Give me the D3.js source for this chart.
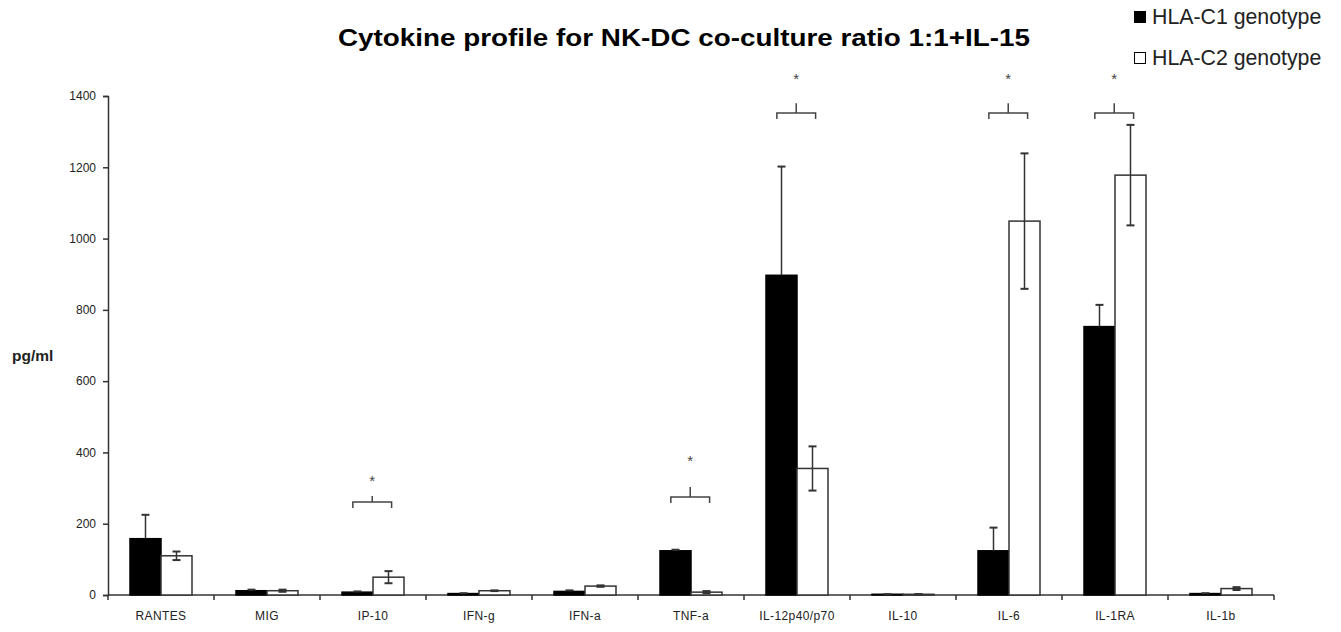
<!DOCTYPE html>
<html><head><meta charset="utf-8">
<script src="https://cdn.jsdelivr.net/npm/d3@7"></script>
<style>body{margin:0;background:#fff}svg{display:block}text{font-family:"Liberation Sans",Arial,sans-serif}</style>
</head><body>
<svg id="c" width="1341" height="632"></svg>
<script>
const categories = ["RANTES","MIG","IP-10","IFN-g","IFN-a","TNF-a","IL-12p40/p70","IL-10","IL-6","IL-1RA","IL-1b"];
const seriesNames = ["HLA-C1 genotype","HLA-C2 genotype"];
const c1Values = [158, 12, 8, 4, 10, 124, 897, 2, 124, 753, 4];
const c1Errors = [67, 3, 2, 1, 3, 3, 305, 0.5, 65, 61, 1];
const c2Values = [110, 12, 50, 12, 25, 8, 355, 2, 1049, 1178, 18];
const c2Errors = [12, 3, 17, 1, 2, 3, 62, 0.5, 190, 141, 4];
const yTicks = [0, 200, 400, 600, 800, 1000, 1200, 1400];
const sigCategories = ["IP-10","TNF-a","IL-12p40/p70","IL-6","IL-1RA"];
const sigLevels = [261, 275, 1352, 1352, 1352];
const sigStemTops = [278, 303, 1380, 1380, 1380];
const sigStars = [328, 384, 1456, 1456, 1456];
const title = "Cytokine profile for NK-DC co-culture ratio 1:1+IL-15";
const yLabel = "pg/ml";

const svg = d3.select("#c");
const L = 108, R = 1274, T = 96, B = 595;
const x0 = d3.scaleBand().domain(categories).range([L, R]).padding(0);
const groupW = 62;
const x1 = d3.scaleBand().domain(seriesNames).range([0, groupW]).padding(0);
const y = d3.scaleLinear().domain([0, 1400]).range([B, T]);
const off = (x0.bandwidth() - groupW) / 2;
const ink = "#222";

// title
svg.append("text").attr("x", 338).attr("y", 46).attr("font-size", 24).attr("font-weight", "bold")
  .attr("textLength", 692).attr("lengthAdjust", "spacingAndGlyphs").attr("fill", "#000").text(title);

// legend
const leg = svg.append("g");
seriesNames.forEach((s, i) => {
  const yy = 11 + i * 41;
  leg.append("rect").attr("x", 1134.5).attr("y", yy + 0.5).attr("width", 11).attr("height", 11)
    .attr("fill", i === 0 ? "#000" : "#fff").attr("stroke", "#000").attr("stroke-width", 1);
  leg.append("text").attr("x", 1152).attr("y", yy + 13).attr("font-size", 21.3).attr("fill", ink).text(s);
});

// y axis
const yAxis = svg.append("g").attr("transform", `translate(${L},0)`)
  .call(d3.axisLeft(y).tickValues(yTicks).tickSize(5).tickPadding(7).tickFormat(d3.format("d")));
yAxis.select(".domain").attr("stroke", "#333").attr("stroke-width", 1.5);
yAxis.selectAll(".tick line").attr("stroke", "#333").attr("stroke-width", 1.5);
yAxis.selectAll(".tick text").attr("font-size", 12).attr("fill", ink).attr("font-family", "Liberation Sans, Arial, sans-serif");

svg.append("text").attr("x", 12).attr("y", 361).attr("font-size", 15.5).attr("font-weight", "bold")
  .attr("fill", ink).text(yLabel);

// x axis: ticks at category boundaries
const xg = svg.append("g");
xg.append("line").attr("x1", L).attr("x2", R).attr("y1", B).attr("y2", B).attr("stroke", "#333").attr("stroke-width", 1.5);
const edges = categories.map(c => x0(c)).concat([R]);
xg.selectAll(".xt").data(edges).join("line").attr("x1", d => d).attr("x2", d => d)
  .attr("y1", B).attr("y2", B + 5).attr("stroke", "#333").attr("stroke-width", 1.5);
xg.selectAll(".xl").data(categories).join("text")
  .attr("x", d => x0(d) + x0.bandwidth() / 2).attr("y", 620).attr("text-anchor", "middle")
  .attr("font-size", 12).attr("letter-spacing", 0.4).attr("fill", ink).text(d => d);

// bars
const rows = categories.map((c, i) => ({c, vals: [
  {s: seriesNames[0], v: c1Values[i], e: c1Errors[i], k: 0},
  {s: seriesNames[1], v: c2Values[i], e: c2Errors[i], k: 1}]}));
const g = svg.append("g");
const grp = g.selectAll(".grp").data(rows).join("g").attr("transform", d => `translate(${x0(d.c) + off},0)`);
grp.selectAll("rect").data(d => d.vals).join("rect")
  .attr("x", d => x1(d.s)).attr("width", x1.bandwidth())
  .attr("y", d => y(d.v)).attr("height", d => B - y(d.v))
  .attr("fill", d => d.k === 0 ? "#000" : "#fff")
  .attr("stroke", d => d.k === 0 ? "#000" : "#333").attr("stroke-width", 1.5);

// error bars (lower half of the black series is hidden inside the bar)
const cx = d => x1(d.s) + x1.bandwidth() / 2;
const lo = d => d.k === 0 ? d.v : Math.max(0, d.v - d.e);
const eb = grp.selectAll(".eb").data(d => d.vals).join("g");
eb.append("line").attr("x1", cx).attr("x2", cx)
  .attr("y1", d => y(d.v + d.e)).attr("y2", d => y(lo(d)))
  .attr("stroke", "#333").attr("stroke-width", 1.5);
eb.append("line").attr("x1", d => cx(d) - 4).attr("x2", d => cx(d) + 4)
  .attr("y1", d => y(d.v + d.e)).attr("y2", d => y(d.v + d.e)).attr("stroke", "#333").attr("stroke-width", 2);
eb.filter(d => d.k === 1).append("line").attr("x1", d => cx(d) - 4).attr("x2", d => cx(d) + 4)
  .attr("y1", d => y(lo(d))).attr("y2", d => y(lo(d))).attr("stroke", "#333").attr("stroke-width", 2);

// significance brackets
const sig = sigCategories.map((c, i) => ({c, lvl: sigLevels[i], top: sigStemTops[i], star: sigStars[i]}));
const sg = svg.append("g").attr("stroke", "#444").attr("stroke-width", 1.5).attr("fill", "none");
sig.forEach(d => {
  const xa = x0(d.c) + off + x1(seriesNames[0]) + x1.bandwidth() * 0.35;
  const xb = x0(d.c) + off + x1(seriesNames[1]) + x1.bandwidth() * 0.6;
  const xm = (xa + xb) / 2;
  const yl = y(d.lvl);
  sg.append("path").attr("d", `M${xa},${yl + 6}L${xa},${yl}L${xb},${yl}L${xb},${yl + 6}`);
  sg.append("line").attr("x1", xm).attr("x2", xm).attr("y1", yl).attr("y2", y(d.top));
  svg.append("text").attr("x", xm).attr("y", y(d.star) + 8).attr("text-anchor", "middle")
    .attr("font-size", 15).attr("fill", "#444").text("*");
});
</script>
</body></html>
